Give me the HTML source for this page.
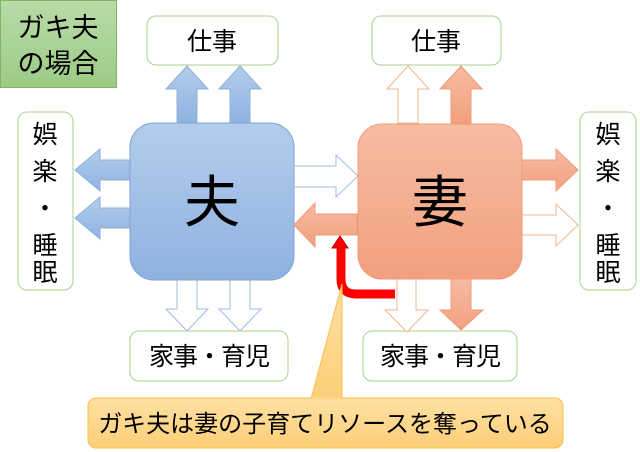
<!DOCTYPE html>
<html><head><meta charset="utf-8"><style>
html,body{margin:0;padding:0;background:#fff}
svg{display:block}
text{font-family:"Liberation Sans","Noto Sans CJK JP",sans-serif;fill:#000}
</style></head><body>
<svg width="640" height="452" viewBox="0 0 640 452" xmlns="http://www.w3.org/2000/svg">
<defs>
<linearGradient id="gb" x1="0" y1="0" x2="0" y2="1"><stop offset="0" stop-color="#b3cdec"/><stop offset="1" stop-color="#8fb2e0"/></linearGradient>
<linearGradient id="go" x1="0" y1="0" x2="0" y2="1"><stop offset="0" stop-color="#f6bca2"/><stop offset="1" stop-color="#f2a07f"/></linearGradient>
<linearGradient id="gg" x1="0" y1="0" x2="0" y2="1"><stop offset="0" stop-color="#b9dba8"/><stop offset="1" stop-color="#9bcb85"/></linearGradient>
<linearGradient id="gy" x1="0" y1="0" x2="0" y2="1"><stop offset="0" stop-color="#ffe0a3"/><stop offset="1" stop-color="#fccf78"/></linearGradient>
</defs>

<rect x="0.5" y="0.5" width="116" height="87" fill="url(#gg)" stroke="#82b366"/>
<text x="58" y="37" font-size="27" text-anchor="middle">ガキ夫</text>
<text x="58" y="73" font-size="27" text-anchor="middle">の場合</text>

<rect x="147" y="16" width="131" height="49" rx="9" fill="#fff" stroke="#a9d18e"/>
<text x="212" y="50" font-size="25" text-anchor="middle">仕事</text>
<rect x="372" y="16" width="129" height="49" rx="9" fill="#fff" stroke="#a9d18e"/>
<text x="436" y="50" font-size="25" text-anchor="middle">仕事</text>
<rect x="18" y="112" width="55" height="178" rx="9" fill="#fff" stroke="#a9d18e"/>
<rect x="580" y="112" width="56" height="178" rx="9" fill="#fff" stroke="#a9d18e"/>
<g font-size="25" text-anchor="middle">
<text x="45" y="143">娯</text><text x="45" y="180">楽</text><text x="45" y="217">・</text><text x="45" y="254">睡</text><text x="45" y="281">眠</text>
<text x="608" y="143">娯</text><text x="608" y="180">楽</text><text x="608" y="217">・</text><text x="608" y="254">睡</text><text x="608" y="281">眠</text>
</g>
<rect x="130" y="331" width="158" height="50" rx="9" fill="#fff" stroke="#a9d18e"/>
<text x="209" y="365" font-size="25" text-anchor="middle" letter-spacing="-1">家事・育児</text>
<rect x="363" y="331" width="154" height="50" rx="9" fill="#fff" stroke="#a9d18e"/>
<text x="440" y="365" font-size="25" text-anchor="middle" letter-spacing="-1">家事・育児</text>

<g fill="url(#gb)" stroke="#8eb0dc">
<path d="M177,123 V89 H166 L187,66 L208,89 H197 V123 Z"/>
<path d="M230,123 V89 H219 L240,66 L261,89 H250 V123 Z"/>
<path d="M130,160 H100 V149 L75,170 L100,191 V180 H130 Z"/>
<path d="M130,208 H100 V197 L75,218 L100,239 V228 H130 Z"/>
</g>
<g fill="#fff" stroke="#9dbbe2">
<path d="M177,280 V309 H166 L187,331 L208,309 H197 V280 Z"/>
<path d="M230,280 V309 H219 L240,331 L261,309 H250 V280 Z"/>
<path d="M294,166 H336 V155 L358,176 L336,197 V187 H294 Z"/>
</g>
<g fill="#fff" stroke="#f0b48f">
<path d="M398,123 V89 H387 L408,66 L429,89 H418 V123 Z"/>
<path d="M397,278 V310 H385 L407,332 L428,310 H416 V278 Z"/>
<path d="M522,215 H556 V204 L578,225 L556,246 V235 H522 Z"/>
</g>
<g fill="url(#go)" stroke="#ee9c77">
<path d="M451,123 V89 H440 L461,66 L482,89 H471 V123 Z"/>
<path d="M451,278 V310 H440 L461,330 L483,310 H471 V278 Z"/>
<path d="M522,160 H556 V149 L578,170 L556,191 V180 H522 Z"/>
<path d="M357,214 H315 V203 L294,225 L315,247 V235 H357 Z"/>
</g>

<rect x="130" y="123" width="164" height="157" rx="24" fill="url(#gb)" stroke="#7fa4d6"/>
<text x="212" y="222" font-size="56" text-anchor="middle">夫</text>
<rect x="358" y="124" width="164" height="155" rx="24" fill="url(#go)" stroke="#ee9c77"/>
<text x="440" y="222" font-size="56" text-anchor="middle">妻</text>

<path d="M395,294 H356 Q341,294 341,279 V247" fill="none" stroke="#ff0000" stroke-width="9"/>
<path d="M332,248 L340,236 L348,248 Z" fill="#ff0000" stroke="#c00000" stroke-width="1"/>

<path d="M342,284 L342,399 L311,399 Z" fill="url(#gy)" stroke="#f6c04a"/>
<rect x="88" y="398" width="475" height="50" rx="8" fill="url(#gy)" stroke="#f6c04a"/>
<path d="M312,398.5 L341.5,398.5" stroke="#fdd98f" stroke-width="2"/>
<text x="325" y="432" font-size="24" text-anchor="middle">ガキ夫は妻の子育てリソースを奪っている</text>
</svg>
</body></html>
